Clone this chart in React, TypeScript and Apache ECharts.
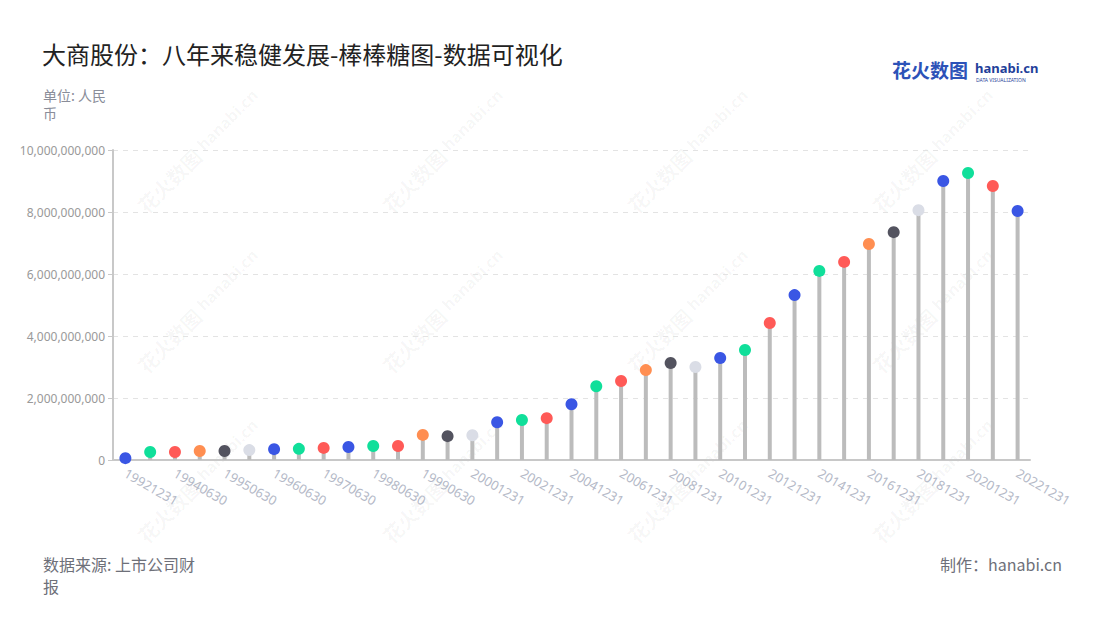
import React, { useEffect, useRef } from "react";
import * as echarts from "echarts";

const categories = [
  "19921231", "19931231", "19940630", "19941231", "19950630", "19951231",
  "19960630", "19961231", "19970630", "19971231", "19980630", "19981231",
  "19990630", "19991231", "20001231", "20011231", "20021231", "20031231",
  "20041231", "20051231", "20061231", "20071231", "20081231", "20091231",
  "20101231", "20111231", "20121231", "20131231", "20141231", "20151231",
  "20161231", "20171231", "20181231", "20191231", "20201231", "20211231",
  "20221231",
];

const values = [
  60000000, 260000000, 260000000, 290000000, 290000000, 320000000,
  350000000, 360000000, 390000000, 420000000, 450000000, 450000000,
  810000000, 770000000, 800000000, 1220000000, 1290000000, 1350000000,
  1800000000, 2380000000, 2550000000, 2900000000, 3130000000, 3000000000,
  3290000000, 3550000000, 4420000000, 5320000000, 6100000000, 6390000000,
  6970000000, 7350000000, 8060000000, 9000000000, 9260000000, 8840000000,
  8030000000,
];

const palette = [
  "#3a56e4", "#10df9a", "#ff5a57", "#ff8e51", "#53535f", "#dadde6",
  "#3a56e4", "#10df9a", "#ff5a57",
];

const yTicks = { min: 0, max: 10000000000, interval: 2000000000 };

const watermarkCols = [180, 425, 670, 915];
const watermarkRows = [170, 330, 500];

export default function App() {
  const ref = useRef<HTMLDivElement>(null);

  useEffect(() => {
    if (!ref.current) return;
    const chart = echarts.init(ref.current, null, { renderer: "svg" });

    const watermarks: any[] = [];
    watermarkRows.forEach((y) =>
      watermarkCols.forEach((x) => {
        watermarks.push({
          type: "group",
          x,
          y,
          rotation: Math.PI / 4,
          silent: true,
          z: -10,
          children: [
            {
              type: "text",
              x: -55,
              y: 0,
              style: {
                text: "花火数图",
                fontSize: 20,
                fontWeight: "bold",
                fill: "rgba(0,0,0,0.04)",
                verticalAlign: "middle",
                fontFamily: "Noto Sans CJK SC",
              },
            },
            {
              type: "text",
              x: 30,
              y: -2,
              style: {
                text: "hanabi.cn",
                fontSize: 16,
                fontWeight: "bold",
                fill: "rgba(0,0,0,0.04)",
                verticalAlign: "middle",
                fontFamily: "Noto Sans",
              },
            },
          ],
        });
      })
    );

    chart.setOption({
      animation: false,
      backgroundColor: "#ffffff",
      title: {
        text: "大商股份：八年来稳健发展-棒棒糖图-数据可视化",
        left: 37,
        top: 36,
        textStyle: {
          fontSize: 24,
          fontWeight: "normal",
          color: "#222222",
          fontFamily: "Noto Sans CJK SC",
        },
      },
      graphic: [
        ...watermarks,
        {
          type: "text",
          left: 43,
          top: 86,
          style: {
            text: "单位: 人民\n币",
            fontSize: 14,
            lineHeight: 18,
            fill: "#8a8d99",
            fontFamily: "Noto Sans CJK SC",
          },
        },
        {
          type: "text",
          left: 43,
          top: 556,
          style: {
            text: "数据来源: 上市公司财",
            fontSize: 16,
            fill: "#6e7079",
            fontFamily: "Noto Sans CJK SC",
          },
        },
        {
          type: "text",
          left: 43,
          top: 578,
          style: {
            text: "报",
            fontSize: 16,
            fill: "#6e7079",
            fontFamily: "Noto Sans CJK SC",
          },
        },
        {
          type: "text",
          right: 38,
          top: 556,
          style: {
            text: "制作：hanabi.cn",
            fontSize: 16,
            fill: "#6e7079",
            fontFamily: "Noto Sans CJK SC",
          },
        },
        {
          type: "text",
          left: 892,
          top: 60,
          style: {
            text: "花火数图",
            fontSize: 19,
            fontWeight: "bold",
            fill: "#2c52b8",
            fontFamily: "Noto Sans CJK SC",
          },
        },
        {
          type: "text",
          left: 975,
          top: 61,
          style: {
            text: "hanabi.cn",
            fontSize: 13,
            fontWeight: "bold",
            fill: "#1f3f9a",
            fontFamily: "Noto Sans",
          },
        },
        {
          type: "text",
          left: 976,
          top: 77,
          style: {
            text: "DATA VISUALIZATION",
            fontSize: 5,
            fill: "#1f3f9a",
            fontFamily: "Noto Sans",
          },
        },
      ],
      grid: { left: 113, right: 70, top: 150, bottom: 160, containLabel: false },
      xAxis: {
        type: "category",
        data: categories,
        boundaryGap: true,
        axisLine: { lineStyle: { color: "#c8c8c8", width: 2 } },
        axisTick: {
          alignWithLabel: true,
          interval: 1,
          length: 5,
          lineStyle: { color: "#c8c8c8" },
        },
        axisLabel: {
          interval: 1,
          rotate: -30,
          color: "#b4b9c7",
          fontSize: 13,
          margin: 12,
          fontFamily: "Noto Sans",
        },
      },
      yAxis: {
        type: "value",
        min: yTicks.min,
        max: yTicks.max,
        interval: yTicks.interval,
        axisLine: { show: true, lineStyle: { color: "#c8c8c8", width: 2 } },
        axisTick: { show: true, length: 5, lineStyle: { color: "#c8c8c8" } },
        axisLabel: {
          color: "#999999",
          fontSize: 12,
          margin: 8,
          fontFamily: "Noto Sans",
          formatter: (v: number) => v.toLocaleString("en-US"),
        },
        splitLine: {
          show: true,
          lineStyle: { color: "#e3e3e3", type: [5, 5], width: 1 },
        },
      },
      series: [
        {
          type: "bar",
          data: values,
          barWidth: 4,
          itemStyle: { color: "#bcbcbc" },
          z: 2,
          silent: true,
        },
        {
          type: "scatter",
          data: values.map((v, i) => ({
            value: v,
            itemStyle: { color: palette[i % palette.length], opacity: 1 },
          })),
          symbolSize: 12,
          z: 3,
        },
      ],
    });

    return () => chart.dispose();
  }, []);

  return <div ref={ref} style={{ width: 1100, height: 620, margin: -8 }} />;
}
